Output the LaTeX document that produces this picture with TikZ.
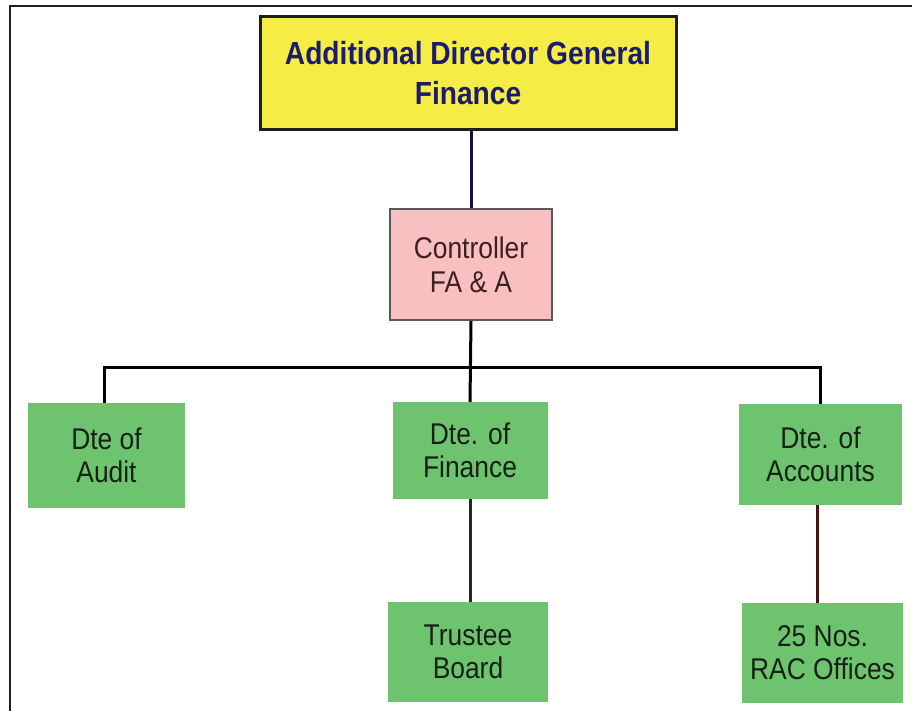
\documentclass[tikz,border=0pt]{standalone}
\usepackage{fontspec}
\setmainfont{Liberation Sans}
\newfontfamily\cfont[FakeStretch=0.88]{Liberation Sans}
\definecolor{ylw}{RGB}{246,236,70}
\definecolor{pnk}{RGB}{248,192,192}
\definecolor{grn}{RGB}{110,196,110}
\definecolor{navy}{RGB}{28,28,110}
\definecolor{ctxt}{RGB}{62,32,32}
\definecolor{gtxt}{RGB}{22,32,22}
\definecolor{maroon}{RGB}{62,22,22}
\definecolor{frm}{RGB}{30,30,30}
\tikzset{
  box/.style={rectangle, align=center, inner sep=0pt},
  topbox/.style={box, fill=ylw, draw=frm, line width=3pt, text=navy, font=\cfont\bfseries\fontsize{32}{40}\selectfont},
  ctrlbox/.style={box, fill=pnk, draw=black!65, line width=2pt, text=ctxt, font=\cfont\fontsize{30}{34}\selectfont},
  grnbox/.style={box, fill=grn, text=gtxt, font=\cfont\fontsize{30}{33}\selectfont},
  conn/.style={line width=3pt, draw=black}
}
\begin{document}
\begin{tikzpicture}[x=1pt,y=-1pt]
\useasboundingbox (0,0) rectangle (912,711);
\fill[white] (0,0) rectangle (912,711);
% frame
\draw[frm, line width=2.5pt] (10,711) -- (10,6) -- (912,6);
% nodes
\node[topbox, minimum width=416pt, minimum height=113pt] (top) at (468,73.5) {Additional Director General\\Finance};
\node[ctrlbox, minimum width=162pt, minimum height=111pt] (ctrl) at (471,264.5) {Controller\\FA \& A};
\node[grnbox, minimum width=157pt, minimum height=105pt] (aud) at (106.5,455.5) {Dte of\\Audit};
\node[grnbox, minimum width=155pt, minimum height=97pt] (fin) at (470,450.5) {Dte. of\\Finance};
\node[grnbox, minimum width=163pt, minimum height=101pt] (acc) at (820.5,454.5) {Dte. of\\Accounts};
\node[grnbox, minimum width=160pt, minimum height=100pt] (tru) at (468,652) {Trustee\\Board};
\node[grnbox, minimum width=161pt, minimum height=100pt] (rac) at (822.5,653) {25 Nos.\\RAC Offices};
\coordinate (bar) at (470,367);
% connectors
\draw[line width=3pt, draw=navy!60!black] (top.south -| ctrl.north) -- (ctrl.north);
\draw[conn] (ctrl.south) -- (fin.north);
\draw[conn] ([xshift=-2.5pt]aud.north) |- (bar) -| (acc.north);
\draw[line width=3pt, draw=black!85] (fin.south) -- (fin.south |- tru.north);
\draw[line width=3pt, draw=maroon] ([xshift=-3pt]acc.south) -- ([xshift=-3pt]acc.south |- rac.north);
\end{tikzpicture}
\end{document}
